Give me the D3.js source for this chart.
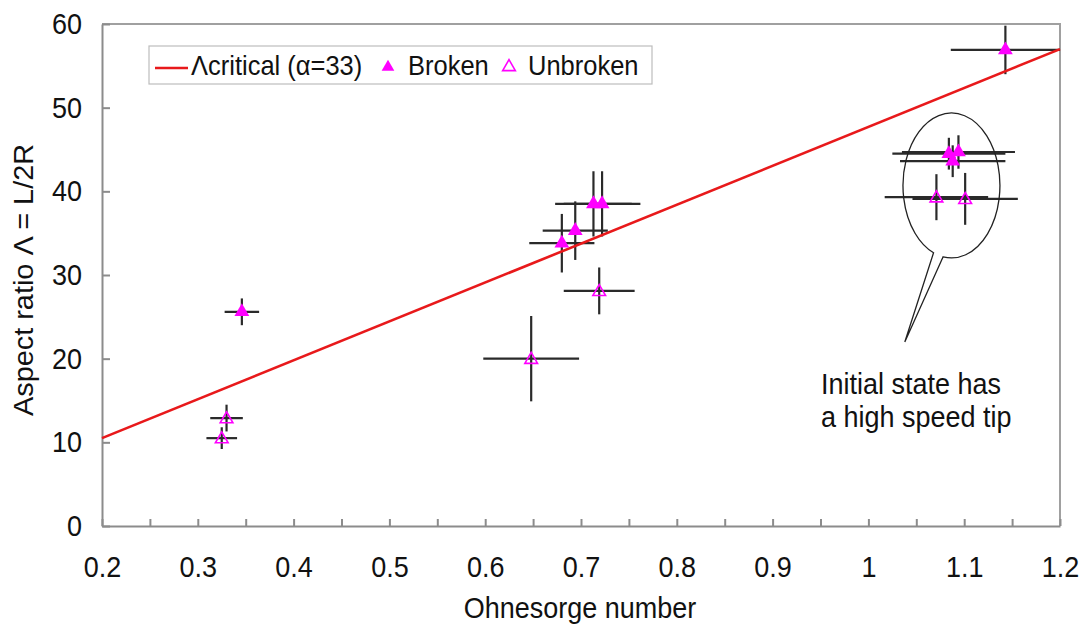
<!DOCTYPE html>
<meta charset="utf-8">
<style>

body {
  margin: 0;
  background: #fff;
}

text {
  font-family: Arial, "Liberation Sans", sans-serif;
  fill: #111;
  transform-box: fill-box;
  transform-origin: center;
  transform: scaleY(1.1);
}

text.ylabel {
  transform: scaleX(1.07);
}

.axis path,
.axis line {
  stroke: #8c8c8c;
  stroke-width: 2px;
}

.axis text {
  font-size: 27px;
  fill: #111;
}

.frame {
  fill: none;
  stroke: #a0a0a0;
  stroke-width: 2px;
}

.err {
  stroke: #2a2a2a;
  stroke-width: 2.2px;
}

.critical {
  fill: none;
  stroke: #e8191b;
  stroke-width: 2.6px;
}

.broken {
  fill: #ff00ff;
}

.unbroken {
  fill: none;
  stroke: #ff00ff;
  stroke-width: 1.6px;
}

.callout {
  fill: none;
  stroke: #222;
  stroke-width: 1.3px;
}

</style>
<body>
<script src="https://cdnjs.cloudflare.com/ajax/libs/d3/7.8.5/d3.min.js"></script>
<script>

// broken (filled triangles)
var brokenOh     = [0.346, 0.680, 0.694, 0.713, 0.722, 1.143, 1.084, 1.094, 1.088];
var brokenLam    = [25.6, 33.8, 35.3, 38.5, 38.5, 56.9, 44.5, 44.7, 43.6];
var brokenOhErr  = [0.018, 0.034, 0.034, 0.040, 0.040, 0.057, 0.059, 0.059, 0.055];
var brokenLamErr = [1.6, 3.5, 3.5, 3.9, 3.9, 2.9, 1.9, 2.0, 1.9];

// unbroken (open triangles)
var unbrokenOh     = [0.325, 0.330, 0.648, 0.719, 1.071, 1.101];
var unbrokenLam    = [10.5, 12.9, 20.0, 28.1, 39.3, 39.1];
var unbrokenOhErr  = [0.016, 0.017, 0.050, 0.037, 0.054, 0.055];
var unbrokenLamErr = [1.3, 1.6, 5.1, 2.8, 2.75, 3.1];

// critical line (alpha = 33)
var criticalOh  = [0.2, 1.2];
var criticalLam = [10.5, 57.0];

var xTicks = [0.2, 0.3, 0.4, 0.5, 0.6, 0.7, 0.8, 0.9, 1.0, 1.1, 1.2];
var xTickLabels = ["0.2", "0.3", "0.4", "0.5", "0.6", "0.7", "0.8", "0.9", "1", "1.1", "1.2"];
var xMinorTicks = [0.25, 0.35, 0.45, 0.55, 0.65, 0.75, 0.85, 0.95, 1.05, 1.15];
var yTicks = [0, 10, 20, 30, 40, 50, 60];
var yTickLabels = ["0", "10", "20", "30", "40", "50", "60"];

// callout bubble (data units): centre, radii, tip
var bubbleCenter = [1.0867, 40.7];
var bubbleRadius = [0.0506, 8.66];
var bubbleTip = [1.038, 22.0];
var bubbleBase = [1.068, 1.078]; // Oh where the tail meets the ellipse
var noteLines = ["Initial state has", "a high speed tip"];

var width = 1083,
    height = 624,
    margin = {top: 24, right: 23, bottom: 98, left: 102},
    w = width - margin.left - margin.right,
    h = height - margin.top - margin.bottom;

var x = d3.scaleLinear().domain([0.2, 1.2]).range([0, w]);
var y = d3.scaleLinear().domain([0, 60]).range([h, 0]);

var svg = d3.select("body").append("svg")
    .attr("width", width)
    .attr("height", height);

var g = svg.append("g")
    .attr("transform", "translate(" + margin.left + "," + margin.top + ")");

// frame (top + right)
g.append("path")
    .attr("class", "frame")
    .attr("d", "M0,0H" + w + "V" + h);

// axes
g.append("g")
    .attr("class", "axis")
    .attr("transform", "translate(0," + h + ")")
    .call(d3.axisBottom(x).tickValues(xMinorTicks).tickSize(-7).tickFormat(""))
    .call(function(s) { s.select(".domain").remove(); });

g.append("g")
    .attr("class", "axis")
    .attr("transform", "translate(0," + h + ")")
    .call(d3.axisBottom(x).tickValues(xTicks).tickSize(-7).tickSizeOuter(0).tickPadding(31)
      .tickFormat(function(d, i) { return xTickLabels[i]; }));

g.append("g")
    .attr("class", "axis")
    .call(d3.axisLeft(y).tickValues(yTicks).tickSize(-8).tickSizeOuter(0).tickPadding(20)
      .tickFormat(function(d, i) { return yTickLabels[i]; }));

g.selectAll(".axis text").attr("fill", "#111");

// axis titles
svg.append("text")
    .attr("x", margin.left + w / 2 - 1)
    .attr("y", 617)
    .attr("text-anchor", "middle")
    .style("font-size", "27px")
    .text("Ohnesorge number");

svg.append("g")
    .attr("transform", "translate(33," + (margin.top + h / 2 + 5) + ")rotate(-90)")
  .append("text")
    .attr("class", "ylabel")
    .attr("text-anchor", "middle")
    .style("font-size", "27px")
    .text("Aspect ratio \u039B = L/2R");

// error bars
function errBars(oh, lam, ohErr, lamErr) {
  var idx = d3.range(oh.length);
  var eg = g.append("g");
  eg.selectAll(null).data(idx).enter().append("line")
      .attr("class", "err")
      .attr("x1", function(i) { return x(oh[i] - ohErr[i]); })
      .attr("x2", function(i) { return x(oh[i] + ohErr[i]); })
      .attr("y1", function(i) { return y(lam[i]); })
      .attr("y2", function(i) { return y(lam[i]); });
  eg.selectAll(null).data(idx).enter().append("line")
      .attr("class", "err")
      .attr("x1", function(i) { return x(oh[i]); })
      .attr("x2", function(i) { return x(oh[i]); })
      .attr("y1", function(i) { return y(lam[i] - lamErr[i]); })
      .attr("y2", function(i) { return y(lam[i] + lamErr[i]); });
}
errBars(brokenOh, brokenLam, brokenOhErr, brokenLamErr);
errBars(unbrokenOh, unbrokenLam, unbrokenOhErr, unbrokenLamErr);

// critical line
g.append("path")
    .datum(d3.range(criticalOh.length))
    .attr("class", "critical")
    .attr("d", d3.line()
      .x(function(i) { return x(criticalOh[i]); })
      .y(function(i) { return y(criticalLam[i]); }));

// markers
var triFull = d3.symbol().type(d3.symbolTriangle).size(95);
var triOpen = d3.symbol().type(d3.symbolTriangle).size(70);
var triLegend = d3.symbol().type(d3.symbolTriangle).size(70);

g.append("g").selectAll("path")
    .data(d3.range(unbrokenOh.length))
  .enter().append("path")
    .attr("class", "unbroken")
    .attr("d", triOpen)
    .attr("transform", function(i) { return "translate(" + x(unbrokenOh[i]) + "," + (y(unbrokenLam[i]) + 1) + ")"; });

g.append("g").selectAll("path")
    .data(d3.range(brokenOh.length))
  .enter().append("path")
    .attr("class", "broken")
    .attr("d", triFull)
    .attr("transform", function(i) { return "translate(" + x(brokenOh[i]) + "," + y(brokenLam[i]) + ")"; });

// callout bubble
var cx = x(bubbleCenter[0]), cy = y(bubbleCenter[1]),
    rx = x(bubbleCenter[0] + bubbleRadius[0]) - cx,
    ry = cy - y(bubbleCenter[1] + bubbleRadius[1]);

function ellY(px) {
  var t = (px - cx) / rx;
  return cy + ry * Math.sqrt(1 - t * t);
}

var lx = x(bubbleBase[0]), rxp = x(bubbleBase[1]);
g.append("path")
    .attr("class", "callout")
    .attr("d", "M" + rxp + "," + ellY(rxp) +
      "A" + rx + "," + ry + " 0 1 0 " + lx + "," + ellY(lx) +
      "L" + x(bubbleTip[0]) + "," + y(bubbleTip[1]) + "Z");

svg.selectAll(".note")
    .data(noteLines)
  .enter().append("text")
    .attr("class", "note")
    .attr("x", 821)
    .attr("y", function(d, i) { return 393 + i * 33; })
    .style("font-size", "27px")
    .text(function(d) { return d; });

// legend
var legend = svg.append("g").attr("transform", "translate(149,46)");

legend.append("rect")
    .attr("width", 503)
    .attr("height", 38)
    .attr("fill", "#fff")
    .attr("stroke", "#bdbdbd")
    .attr("stroke-width", 1.2);

legend.append("line")
    .attr("class", "critical")
    .attr("x1", 6).attr("x2", 39)
    .attr("y1", 22).attr("y2", 22);

legend.append("text")
    .attr("x", 42).attr("y", 28)
    .style("font-size", "25.5px")
    .text("\u039Bcritical (\u03B1=33)");

legend.append("path")
    .attr("class", "broken")
    .attr("d", triLegend)
    .attr("transform", "translate(239,21)");

legend.append("text")
    .attr("x", 259).attr("y", 28)
    .style("font-size", "25.5px")
    .text("Broken");

legend.append("path")
    .attr("class", "unbroken")
    .attr("d", triLegend)
    .attr("transform", "translate(360,21)");

legend.append("text")
    .attr("x", 379).attr("y", 28)
    .style("font-size", "25.5px")
    .text("Unbroken");

</script>
